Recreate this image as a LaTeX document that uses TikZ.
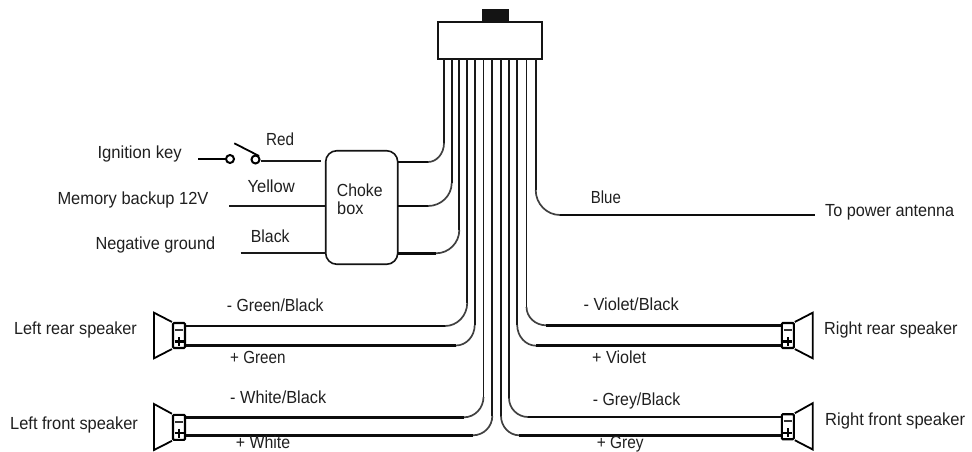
\documentclass[tikz,border=0pt]{standalone}
\usepackage{fontspec}
\setmainfont{Liberation Sans}
\usetikzlibrary{calc}
\newcommand{\wirecurve}[5]{% pin, ybend, xcurve, y, target
  \draw[wirev] (#1) -- (#1 |- 0,#2);
  \path (#1 |- 0,#2) coordinate (ca) (#3,#4) coordinate (cb);
  \draw[wiret] (ca) .. controls ($(ca)!0.55!(ca |- cb)$) and ($(cb)!0.55!(ca |- cb)$) .. (cb);
  \draw[wireh] (cb) -- (#5);
}
\newcommand{\lb}[5]{% name, left x, baseline y, width, text
  \node[lbl] (#1) at (#2,#3) {\resizebox{#4pt}{\height}{#5}};
}
\begin{document}
\begin{tikzpicture}[x=1pt,y=-1pt,
  lbl/.style={inner sep=0pt,anchor=base west,font=\fontsize{17.5}{20}\selectfont,text=black!88},
  wirev/.style={line width=1.8pt,draw=black!90},
  wireh/.style={line width=2.8pt,draw=black!95},
  wiret/.style={line width=1.7pt,draw=black!75},
  feed/.style={line width=2pt,draw=black!90},
  spkbox/.style={draw=black,line width=2.1pt,minimum width=12pt,minimum height=25pt,inner sep=0pt,rounded corners=1pt},
  cone/.style={draw=black,line width=1.8pt,line join=miter},
  ]
\useasboundingbox (0,0) rectangle (972,452);
% connector
\node[draw=black!92,line width=2pt,minimum width=104.5pt,minimum height=37.5pt,inner sep=0pt] (conn) at (490.2,40.7) {};
\node[fill=black!92,minimum width=27pt,minimum height=13pt,inner sep=0pt] (tab) at (495,16) {};
% pins
\foreach \n/\x in {1/444,2/451.7,3/459.3,4/467.2,5/474.7,6/483.5,7/492.3,8/501,9/509,10/517.2,11/526.5,12/535.7}
  \coordinate (p\n) at (\x,59.5);
% choke box
\node[draw=black!92,line width=1.6pt,rounded corners=11pt,minimum width=72pt,minimum height=113.5pt,inner sep=0pt] (choke) at (361.7,207.5) {};
% switch
\coordinate (ignstart) at (198,159);
\node[circle,draw=black,line width=2pt,minimum size=8pt,inner sep=0pt] (sa) at (230,159) {};
\node[circle,draw=black,line width=2pt,minimum size=8pt,inner sep=0pt] (sb) at (255.5,159.5) {};
\coordinate (bladeend) at (234.3,143.3);
\draw[line width=2.2pt] (ignstart) -- (sa);
\draw[line width=1.8pt] (bladeend) -- (sb.north east);
\coordinate (redend) at (320.7,161.3);
\draw[feed] (sb.east |- redend) -- (redend);
% left feeds
\coordinate (yel) at (229,206);
\coordinate (blk) at (240.7,252.5);
\draw[feed] (yel) -- (yel -| choke.west);
\draw[feed] (blk) -- (blk -| choke.west);
% choke wire ends
\coordinate (c1) at (397.7,162);
\coordinate (c2) at (397.7,206);
\coordinate (c3) at (397.7,253.3);
% speakers
\node[spkbox] (lrs) at (179,335.5) {};
\node[spkbox] (lfs) at (179,427.3) {};
\node[spkbox] (rrs) at (787.8,335.5) {};
\node[spkbox] (rfs) at (787.8,426.7) {};
\draw[cone] (lrs.north west) -- (154,312.7) -- (154,358.3) -- (lrs.south west);
\draw[cone] (lfs.north west) -- (154,404) -- (154,450) -- (lfs.south west);
\draw[cone] (rrs.north east) -- (812.7,312.7) -- (812.7,358.3) -- (rrs.south east);
\draw[cone] (rfs.north east) -- (812.7,403.2) -- (812.7,449.5) -- (rfs.south east);
\foreach \s in {lrs,lfs,rrs,rfs}{
  \draw[line width=1.5pt,black!80] ($(\s)+(-4,-5.5)$) -- ($(\s)+(4,-5.5)$);
  \draw[line width=2.2pt,black] ($(\s)+(-4.5,6)$) -- ($(\s)+(4.5,6)$);
  \draw[line width=2.2pt,black] ($(\s)+(0,1.5)$) -- ($(\s)+(0,10.5)$);
}
% wire ends at speakers
\coordinate (lrsA) at (lrs.east |- 0,326);
\coordinate (lrsB) at (lrs.east |- 0,345.5);
\coordinate (lfsA) at (lfs.east |- 0,417.3);
\coordinate (lfsB) at (lfs.east |- 0,435.3);
\coordinate (rrsA) at (rrs.west |- 0,325.3);
\coordinate (rrsB) at (rrs.west |- 0,345.7);
\coordinate (rfsA) at (rfs.west |- 0,417);
\coordinate (rfsB) at (rfs.west |- 0,435.3);
\coordinate (ant) at (815,215);
\wirecurve{p1}{143}{428}{162}{c1}
\wirecurve{p2}{183}{428}{206}{c2}
\wirecurve{p3}{230}{436}{253.3}{c3}
\wirecurve{p4}{303}{445}{326}{lrsA}
\wirecurve{p5}{325}{456}{345.5}{lrsB}
\wirecurve{p6}{397}{464}{417.3}{lfsA}
\wirecurve{p7}{416}{473}{435.3}{lfsB}
\wirecurve{p8}{416}{519.3}{435.3}{rfsB}
\wirecurve{p9}{398}{528}{417}{rfsA}
\wirecurve{p10}{325}{536}{345.7}{rrsB}
\wirecurve{p11}{307}{546}{325.3}{rrsA}
\wirecurve{p12}{190}{560}{215}{ant}
% labels
\lb{t1}{97.3}{158.3}{84.3}{Ignition key}
\lb{t2}{266}{145}{28}{Red}
\lb{t3}{247.3}{192.7}{47.3}{Yellow}
\lb{t4}{57.3}{204}{151}{Memory backup 12V}
\lb{t5}{250.7}{242.3}{38.7}{Black}
\lb{t6}{95.3}{249.3}{119.7}{Negative ground}
\lb{t7}{590.7}{203.3}{30}{Blue}
\lb{t8}{825}{216.7}{129}{To power antenna}
\lb{t9}{14}{334.3}{122.7}{Left rear speaker}
\lb{t10}{226.7}{311.7}{96.7}{- Green/Black}
\lb{t11}{230}{363.3}{55.3}{+ Green}
\lb{t12}{583.3}{310}{95.3}{- Violet/Black}
\lb{t13}{592}{363.3}{54}{+ Violet}
\lb{t14}{10}{429}{127.7}{Left front speaker}
\lb{t15}{230}{403.3}{96}{- White/Black}
\lb{t16}{235.7}{448.3}{54.3}{+ White}
\lb{t17}{592.7}{405.7}{87.3}{- Grey/Black}
\lb{t18}{596.7}{448.3}{46.7}{+ Grey}
\lb{t19}{824}{334}{133.3}{Right rear speaker}
\lb{t20}{825}{425}{140}{Right front speaker}
\lb{t21}{336.7}{196}{45.7}{Choke}
\lb{t22}{337}{214.3}{26.3}{box}
\end{tikzpicture}
\end{document}
